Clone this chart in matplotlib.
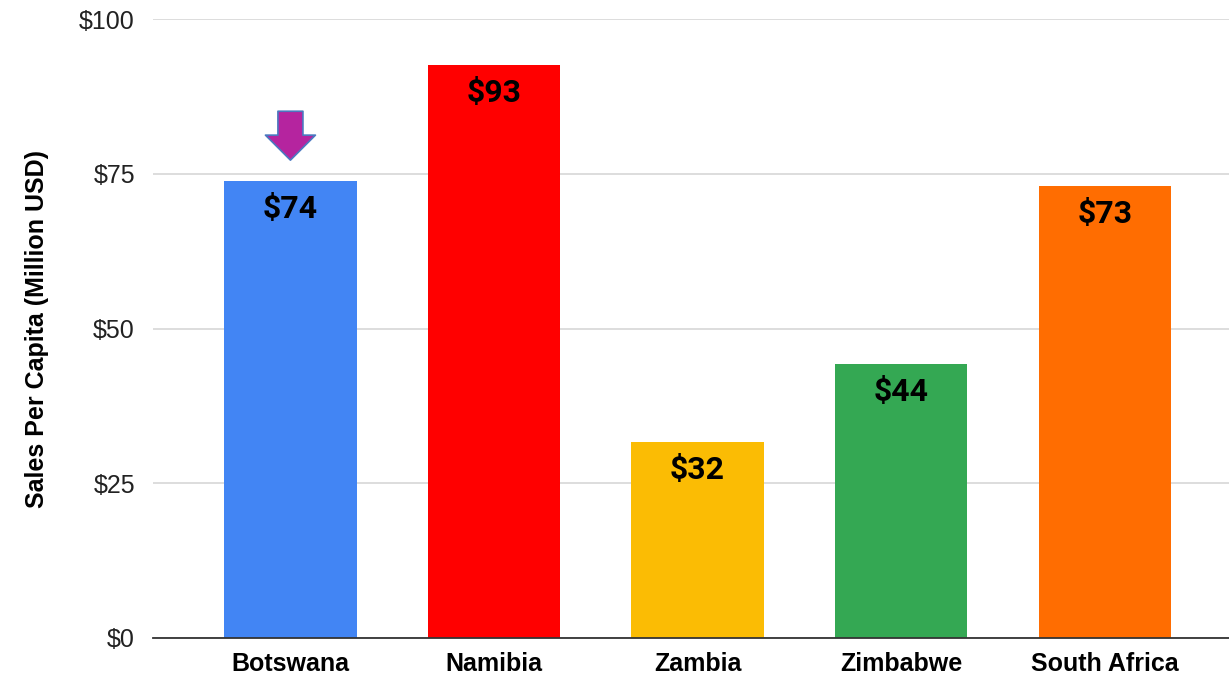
import matplotlib
matplotlib.use("Agg")
import matplotlib.pyplot as plt

countries = ["Botswana", "Namibia", "Zambia", "Zimbabwe", "South Africa"]
sales = [73.8, 92.6, 31.6, 44.3, 73.0]
bar_colors = ["#4285F4", "#FF0000", "#FBBC04", "#34A853", "#FF6D01"]
yticks = [0, 25, 50, 75, 100]
ytick_labels = ["$0", "$25", "$50", "$75", "$100"]
highlight = "Botswana"

fig = plt.figure(figsize=(12.29, 6.79), dpi=100)
ax = fig.add_axes([0.1245, 0.0604, 0.8755, 0.9116])

x = list(range(len(countries)))
ax.bar(x, sales, width=0.65, color=bar_colors, zorder=2)

for xi, v in zip(x, sales):
    ax.annotate("$%.0f" % v, xy=(xi, v), xytext=(0, -28), textcoords="offset pixels",
                ha="center", va="center", fontsize=23, fontweight="bold",
                family="Roboto", color="black", zorder=3)

# arrow pointing at the highlighted bar
hi = countries.index(highlight)
ax.annotate("", xy=(hi, sales[hi] + 3.4), xytext=(hi, sales[hi] + 11.3),
            arrowprops=dict(arrowstyle="simple,head_length=0.5,head_width=1.0,tail_width=0.5",
                            mutation_scale=36, fc="#B5249F", ec="#4A78C0", lw=1.2,
                            shrinkA=0, shrinkB=0), zorder=4)

ax.set_xlim(-0.675, 4.61)
ax.set_ylim(0, 100)
ax.set_yticks(yticks)
ax.set_yticklabels(ytick_labels, family="Liberation Sans", fontsize=18, color="#222222")
ax.set_xticks(x)
ax.set_xticklabels(countries, family="Liberation Sans", fontsize=18, fontweight="bold")
ax.tick_params(axis="both", length=0)
ax.tick_params(axis="y", pad=13)
ax.tick_params(axis="x", pad=10)

ax.grid(axis="y", color="#DADADA", lw=1.3, zorder=0)
for s in ["top", "right", "left"]:
    ax.spines[s].set_visible(False)
ax.spines["bottom"].set_color("#333333")
ax.spines["bottom"].set_linewidth(1.3)
ax.spines["bottom"].set_zorder(3)

ax.set_ylabel("Sales Per Capita (Million USD)", family="Liberation Sans",
              fontsize=18, fontweight="bold", labelpad=22)

fig.savefig("out.png", dpi=100)
